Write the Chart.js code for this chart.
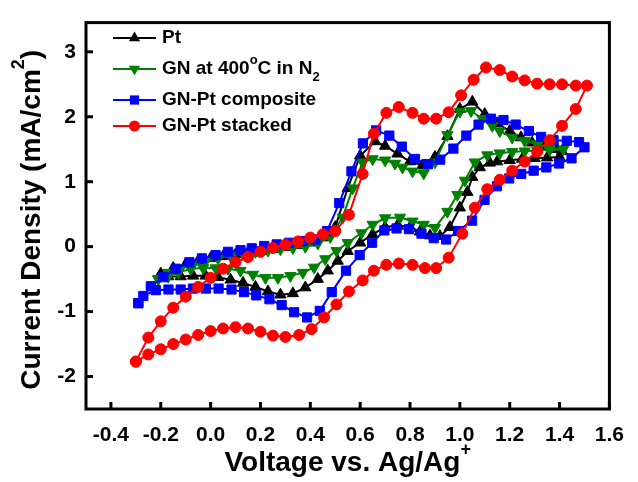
<!DOCTYPE html>
<html>
<head>
<meta charset="utf-8">
<script src="https://cdn.jsdelivr.net/npm/chart.js@4/dist/chart.umd.min.js"></script>
<style>
html, body { margin: 0; padding: 0; background: #fff; }
#wrap { width: 638px; height: 482px; }
</style>
</head>
<body>
<div id="wrap"><canvas id="myChart" width="638" height="482"></canvas></div>
<script>
// potential (V vs Ag/Ag+) and current density (mA/cm2), forward scan then reverse scan
var ptX = [-0.20, -0.15, -0.10, -0.05, 0.00, 0.05, 0.10, 0.15, 0.20, 0.25, 0.30, 0.35, 0.40, 0.45, 0.50, 0.55, 0.60, 0.66, 0.70, 0.75, 0.80, 0.85, 0.90, 0.95, 1.00, 1.05, 1.10, 1.15, 1.20, 1.245, 1.29, 1.34, 1.39, 1.41,
    1.40, 1.35, 1.30, 1.25, 1.20, 1.15, 1.12, 1.08, 1.05, 1.03, 1.00, 0.96, 0.92, 0.88, 0.84, 0.80, 0.75, 0.70, 0.65, 0.60, 0.55, 0.51, 0.47, 0.43, 0.38, 0.33, 0.28, 0.23, 0.18, 0.13, 0.08, 0.03, -0.02, -0.07, -0.12, -0.17, -0.20];
var ptY = [-0.42, -0.33, -0.27, -0.22, -0.18, -0.15, -0.12, -0.09, -0.07, -0.04, -0.01, 0.02, 0.06, 0.14, 0.30, 0.90, 1.40, 1.62, 1.55, 1.43, 1.31, 1.25, 1.38, 1.70, 2.12, 2.23, 2.04, 1.90, 1.78, 1.68, 1.60, 1.55, 1.50, 1.47,
    1.38, 1.37, 1.36, 1.35, 1.33, 1.31, 1.29, 1.22, 1.07, 0.84, 0.60, 0.30, 0.16, 0.17, 0.23, 0.30, 0.33, 0.30, 0.19, 0.06, -0.07, -0.22, -0.37, -0.50, -0.63, -0.72, -0.74, -0.69, -0.62, -0.56, -0.51, -0.47, -0.45, -0.45, -0.46, -0.46, -0.42];

var gnX = [-0.21, -0.17, -0.12, -0.07, -0.02, 0.03, 0.08, 0.13, 0.18, 0.23, 0.28, 0.33, 0.38, 0.43, 0.48, 0.53, 0.57, 0.61, 0.65, 0.70, 0.74, 0.77, 0.81, 0.855, 0.90, 0.95, 1.00, 1.045, 1.09, 1.13, 1.16, 1.21, 1.26, 1.31, 1.36, 1.415,
    1.36, 1.31, 1.26, 1.21, 1.16, 1.11, 1.06, 1.02, 0.99, 0.95, 0.90, 0.855, 0.81, 0.76, 0.70, 0.65, 0.605, 0.55, 0.505, 0.46, 0.415, 0.37, 0.32, 0.27, 0.22, 0.17, 0.12, 0.07, 0.02, -0.03, -0.08, -0.13, -0.17, -0.21];
var gnY = [-0.50, -0.40, -0.33, -0.27, -0.22, -0.18, -0.14, -0.11, -0.08, -0.06, -0.04, -0.02, 0.00, 0.05, 0.15, 0.45, 0.90, 1.30, 1.35, 1.33, 1.28, 1.22, 1.16, 1.13, 1.30, 1.72, 2.08, 2.09, 1.97, 1.86, 1.78, 1.68, 1.63, 1.58, 1.52, 1.50,
    1.49, 1.48, 1.47, 1.46, 1.44, 1.41, 1.30, 1.02, 0.80, 0.54, 0.29, 0.34, 0.39, 0.45, 0.44, 0.34, 0.21, 0.06, -0.065, -0.19, -0.32, -0.40, -0.45, -0.48, -0.48, -0.43, -0.37, -0.34, -0.33, -0.33, -0.34, -0.40, -0.46, -0.50];

var compX = [-0.29, -0.24, -0.19, -0.14, -0.085, -0.035, 0.02, 0.07, 0.12, 0.165, 0.215, 0.265, 0.315, 0.37, 0.42, 0.467, 0.516, 0.565, 0.611, 0.664, 0.717, 0.767, 0.82, 0.872, 0.921, 0.974, 1.026, 1.075, 1.125, 1.175, 1.224, 1.277, 1.326, 1.376, 1.429, 1.478, 1.50,
    1.448, 1.398, 1.347, 1.296, 1.246, 1.198, 1.149, 1.099, 1.049, 0.993, 0.945, 0.895, 0.846, 0.796, 0.746, 0.697, 0.648, 0.598, 0.543, 0.486, 0.438, 0.387, 0.335, 0.285, 0.236, 0.183, 0.134, 0.084, 0.032, -0.019, -0.071, -0.12, -0.169, -0.22, -0.27, -0.29];
var compY = [-0.87, -0.61, -0.47, -0.34, -0.24, -0.18, -0.13, -0.08, -0.055, -0.025, 0.01, 0.035, 0.06, 0.086, 0.11, 0.24, 0.67, 1.16, 1.59, 1.79, 1.71, 1.54, 1.35, 1.27, 1.34, 1.51, 1.71, 1.88, 1.97, 1.95, 1.88, 1.78, 1.69, 1.64, 1.63, 1.61, 1.53,
    1.36, 1.28, 1.22, 1.17, 1.12, 1.05, 0.93, 0.72, 0.40, 0.24, 0.11, 0.13, 0.20, 0.27, 0.28, 0.25, 0.06, -0.13, -0.37, -0.70, -0.99, -1.09, -1.01, -0.90, -0.81, -0.75, -0.70, -0.66, -0.645, -0.645, -0.645, -0.66, -0.66, -0.67, -0.76, -0.87];

var stackX = [-0.30, -0.25, -0.20, -0.15, -0.10, -0.05, 0.00, 0.05, 0.10, 0.15, 0.20, 0.25, 0.30, 0.35, 0.40, 0.45, 0.50, 0.555, 0.61, 0.655, 0.705, 0.755, 0.81, 0.855, 0.905, 0.955, 1.005, 1.055, 1.105, 1.16, 1.21, 1.26, 1.31, 1.36, 1.41, 1.465, 1.51,
    1.465, 1.41, 1.36, 1.31, 1.26, 1.21, 1.16, 1.11, 1.06, 1.01, 0.955, 0.905, 0.86, 0.81, 0.755, 0.705, 0.655, 0.61, 0.555, 0.505, 0.455, 0.405, 0.355, 0.30, 0.25, 0.20, 0.15, 0.10, 0.05, 0.00, -0.05, -0.10, -0.15, -0.20, -0.25, -0.30];
var stackY = [-1.77, -1.40, -1.15, -0.94, -0.77, -0.62, -0.48, -0.34, -0.24, -0.16, -0.08, -0.02, 0.03, 0.08, 0.14, 0.19, 0.24, 0.49, 1.12, 1.74, 2.06, 2.15, 2.06, 1.97, 1.97, 2.07, 2.33, 2.57, 2.76, 2.72, 2.62, 2.56, 2.51, 2.50, 2.50, 2.48, 2.48,
    2.12, 1.86, 1.64, 1.46, 1.31, 1.17, 1.03, 0.885, 0.60, 0.20, -0.17, -0.33, -0.33, -0.28, -0.26, -0.28, -0.37, -0.52, -0.69, -0.89, -1.09, -1.27, -1.36, -1.39, -1.37, -1.31, -1.26, -1.24, -1.26, -1.30, -1.36, -1.43, -1.50, -1.58, -1.66, -1.77];

var xTicks = [-0.4, -0.2, 0.0, 0.2, 0.4, 0.6, 0.8, 1.0, 1.2, 1.4, 1.6];
var yTicks = [-2, -1, 0, 1, 2, 3];

function pairUp(xs, ys) {
    var out = [];
    for (var i = 0; i < xs.length; i++) out.push({ x: xs[i], y: ys[i] });
    return out;
}

function series(label, xs, ys, color, style, radius, rot, order) {
    return {
        label: label,
        data: pairUp(xs, ys),
        showLine: true,
        borderColor: color,
        backgroundColor: color,
        borderWidth: 2,
        pointStyle: style,
        pointRadius: radius,
        pointRotation: rot,
        pointBorderWidth: 1,
        pointBorderColor: color,
        pointBackgroundColor: color,
        tension: 0,
        order: order
    };
}

var FONT = '"Liberation Sans", Arial, sans-serif';

// draws text with optional superscript / subscript pieces, starting at x (left aligned)
function richText(ctx, parts, x, y, size) {
    ctx.textBaseline = 'middle';
    ctx.textAlign = 'left';
    parts.forEach(function(p) {
        var s = p.s ? Math.round(size * 0.66) : size;
        ctx.font = 'bold ' + s + 'px ' + FONT;
        var dy = 0;
        if (p.s === 'sup') dy = -size * 0.45;
        if (p.s === 'sub') dy = size * 0.42;
        ctx.fillText(p.t, x, y + dy);
        x += ctx.measureText(p.t).width;
    });
    return x;
}

function richWidth(ctx, parts, size) {
    var w = 0;
    parts.forEach(function(p) {
        var s = p.s ? Math.round(size * 0.66) : size;
        ctx.font = 'bold ' + s + 'px ' + FONT;
        w += ctx.measureText(p.t).width;
    });
    return w;
}

function marker(ctx, style, x, y, r, rot) {
    ctx.beginPath();
    if (style === 'circle') {
        ctx.arc(x, y, r, 0, Math.PI * 2);
    } else if (style === 'rect') {
        var s = r * Math.SQRT1_2;
        ctx.rect(x - s, y - s, 2 * s, 2 * s);
    } else {
        var a = rot * Math.PI / 180;
        for (var k = 0; k < 3; k++) {
            var px = x + Math.sin(a) * r, py = y - Math.cos(a) * r;
            if (k === 0) ctx.moveTo(px, py); else ctx.lineTo(px, py);
            a += 2 * Math.PI / 3;
        }
        ctx.closePath();
    }
    ctx.fill();
}

var legendRows = [
    { parts: [{ t: 'Pt' }], y: 38 },
    { parts: [{ t: 'GN at 400' }, { t: 'o', s: 'sup' }, { t: 'C in N' }, { t: '2', s: 'sub' }], y: 69 },
    { parts: [{ t: 'GN-Pt composite' }], y: 100 },
    { parts: [{ t: 'GN-Pt stacked' }], y: 126 }
];

var framePlugin = {
    id: 'framePlugin',
    afterDraw: function(chart) {
        var ctx = chart.ctx, a = chart.chartArea;
        var xs = chart.scales.x, ys = chart.scales.y;
        ctx.save();
        ctx.strokeStyle = '#000';
        ctx.lineWidth = 3;
        ctx.strokeRect(a.left, a.top, a.right - a.left, a.bottom - a.top);
        // ticks pointing into the plot
        xTicks.forEach(function(v) {
            var px = xs.getPixelForValue(v);
            ctx.beginPath(); ctx.moveTo(px, a.bottom); ctx.lineTo(px, a.bottom - 7); ctx.stroke();
        });
        yTicks.forEach(function(v) {
            var py = ys.getPixelForValue(v);
            ctx.beginPath(); ctx.moveTo(a.left, py); ctx.lineTo(a.left + 7, py); ctx.stroke();
        });

        // legend
        var ds = chart.data.datasets;
        legendRows.forEach(function(row, i) {
            var d = ds[i];
            ctx.strokeStyle = d.borderColor;
            ctx.fillStyle = d.borderColor;
            ctx.lineWidth = 2;
            ctx.beginPath(); ctx.moveTo(113, row.y); ctx.lineTo(156, row.y); ctx.stroke();
            marker(ctx, d.pointStyle, 134.5, row.y, d.pointRadius, d.pointRotation);
            ctx.fillStyle = '#000';
            richText(ctx, row.parts, 162, row.y, 19);
        });

        // axis titles
        ctx.fillStyle = '#000';
        var xt = [{ t: 'Voltage vs. Ag/Ag' }, { t: '+', s: 'sup' }];
        var w = richWidth(ctx, xt, 28);
        richText(ctx, xt, (a.left + a.right) / 2 - w / 2, 463, 28);

        var yt = [{ t: 'Current Density (mA/cm' }, { t: '2', s: 'sup' }, { t: ')' }];
        w = richWidth(ctx, yt, 28);
        ctx.translate(32, (a.top + a.bottom) / 2 + 4);
        ctx.rotate(-Math.PI / 2);
        richText(ctx, yt, -w / 2, 0, 28);
        ctx.restore();
    }
};

function displayGraph() {
    var grapharea = document.getElementById('myChart');
    var data = {
        datasets: [
            series('Pt', ptX, ptY, '#000000', 'triangle', 6.5, 0, 4),
            series('GN at 400°C in N2', gnX, gnY, '#008000', 'triangle', 6.5, 180, 3),
            series('GN-Pt composite', compX, compY, '#0000ff', 'rect', 6.5, 0, 2),
            series('GN-Pt stacked', stackX, stackY, '#ff0000', 'circle', 5.5, 0, 1)
        ]
    };
    var config = {
        type: 'scatter',
        data: data,
        options: {
            responsive: false,
            animation: false,
            layout: { padding: { left: 0, top: 17, right: 18, bottom: 0 } },
            plugins: { legend: { display: false }, tooltip: { enabled: false } },
            scales: {
                x: {
                    type: 'linear',
                    min: -0.5,
                    max: 1.6,
                    afterBuildTicks: function(s) { s.ticks = xTicks.map(function(v) { return { value: v }; }); },
                    afterFit: function(s) { s.height = 73; },
                    grid: { display: false, drawTicks: false },
                    border: { display: false },
                    ticks: {
                        padding: 14,
                        maxRotation: 0,
                        autoSkip: false,
                        color: '#000',
                        font: { family: FONT, size: 21, weight: 'bold' },
                        callback: function(v) { return Number(v).toFixed(1); }
                    }
                },
                y: {
                    type: 'linear',
                    min: -2.5,
                    max: 3.45,
                    afterBuildTicks: function(s) { s.ticks = yTicks.map(function(v) { return { value: v }; }); },
                    afterFit: function(s) { s.width = 86; },
                    grid: { display: false, drawTicks: false },
                    border: { display: false },
                    ticks: {
                        padding: 10,
                        autoSkip: false,
                        color: '#000',
                        font: { family: FONT, size: 21, weight: 'bold' },
                        callback: function(v) { return String(v); }
                    }
                }
            }
        },
        plugins: [framePlugin]
    };
    new Chart(grapharea, config);
}
displayGraph();
</script>
</body>
</html>
